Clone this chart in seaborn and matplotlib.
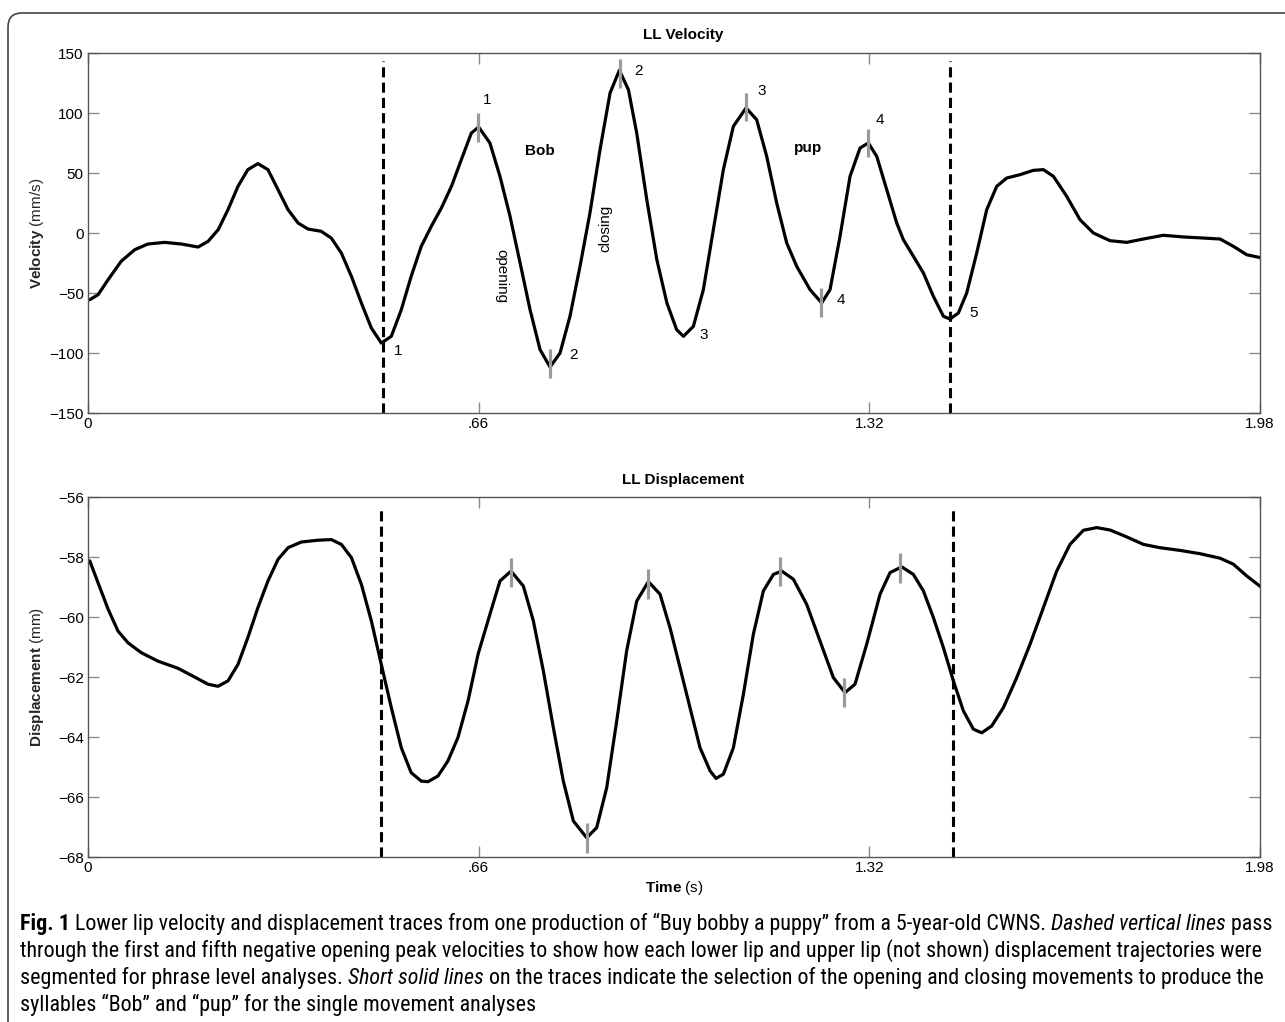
import matplotlib
matplotlib.use('Agg')
import matplotlib.pyplot as plt
from matplotlib import font_manager
from matplotlib.patches import FancyBboxPatch
import seaborn as sns
import pandas as pd

# ── data ─────────────────────────────────────────────────────
vel_t = [0.003, 0.017, 0.034, 0.056, 0.079, 0.101, 0.1295, 0.158, 0.186, 0.203, 0.22,
         0.2365, 0.2534, 0.27, 0.287, 0.304, 0.321, 0.338, 0.355, 0.3717, 0.394, 0.411,
         0.428, 0.445, 0.4618, 0.4787, 0.4955, 0.5124, 0.5293, 0.546, 0.563, 0.58, 0.597,
         0.614, 0.6307, 0.6476, 0.66, 0.679, 0.696, 0.713, 0.73, 0.7468, 0.7637, 0.7806,
         0.7975, 0.8143, 0.8312, 0.848, 0.865, 0.882, 0.8977, 0.913, 0.927, 0.944, 0.961,
         0.978, 0.9945, 1.006, 1.0227, 1.0396, 1.0565, 1.0734, 1.0903, 1.1117, 1.1297,
         1.1466, 1.1635, 1.1804, 1.1973, 1.2198, 1.2395, 1.2536, 1.2705, 1.2874, 1.3043,
         1.3183, 1.3325, 1.3494, 1.3663, 1.3775, 1.3944, 1.4113, 1.4282, 1.4451, 1.4563,
         1.4704, 1.4845, 1.5014, 1.5183, 1.5352, 1.5521, 1.5746, 1.5971, 1.614, 1.631,
         1.6534, 1.6759, 1.6985, 1.7266, 1.7548, 1.783, 1.8167, 1.8505, 1.8843, 1.9125,
         1.935, 1.9575, 1.983]
vel_v = [-55.6, -51.4, -38.9, -23.6, -13.9, -9.2, -7.8, -9.2, -11.7, -6.9, 2.8,
         19.4, 38.9, 52.8, 57.8, 52.8, 36.1, 19.4, 8.3, 3.3, 1.4, -4.2,
         -16.7, -36.1, -58.3, -79.2, -91.7, -86.1, -63.9, -36.1, -11.1, 5.6, 20.8,
         38.9, 61.1, 83.3, 88.3, 75, 47.2, 13.9, -25, -63.9, -97.2, -111.7,
         -100, -69.4, -27.8, 16.7, 69.4, 116.7, 135.6, 119.4, 83.3, 27.8, -22.2,
         -58.3, -80.6, -86.1, -77.8, -47.2, 2.8, 52.8, 88.9, 104.2, 94.4,
         63.9, 25, -8.3, -27.8, -47.2, -58.3, -47.2, -2.8, 47.2, 70.8,
         75, 63.9, 36.1, 8.3, -5.6, -19.4, -33.3, -52.8, -69.4, -71.7,
         -66.7, -50, -16.7, 19.4, 38.9, 45.8, 48.6, 52.2, 52.8, 47.2,
         30.6, 11.1, 0, -6.4, -7.8, -5, -1.9, -3.3, -4.2, -5,
         -11.1, -18.1, -20.8]

disp_t = [0.003, 0.017, 0.034, 0.0507, 0.0676, 0.09, 0.118, 0.152, 0.18, 0.2027, 0.2196,
          0.2365, 0.2534, 0.27, 0.287, 0.304, 0.321, 0.338, 0.3604, 0.3886, 0.411, 0.428,
          0.445, 0.4618, 0.4787, 0.4955, 0.5124, 0.5293, 0.546, 0.563, 0.5744, 0.5913,
          0.608, 0.625, 0.642, 0.659, 0.679, 0.696, 0.7147, 0.7355, 0.7524, 0.7693,
          0.7862, 0.803, 0.82, 0.8425, 0.8594, 0.8763, 0.8932, 0.91, 0.927, 0.9467,
          0.9664, 0.9833, 1.0002, 1.017, 1.034, 1.051, 1.061, 1.0734, 1.0903, 1.1072,
          1.124, 1.141, 1.158, 1.172, 1.1916, 1.2142, 1.2367, 1.2592, 1.2789, 1.2958,
          1.3155, 1.3381, 1.355, 1.3747, 1.3944, 1.4113, 1.4282, 1.4451, 1.462, 1.4789,
          1.4958, 1.5099, 1.5268, 1.5465, 1.569, 1.5915, 1.614, 1.6365, 1.659, 1.6816,
          1.7041, 1.7266, 1.7548, 1.783, 1.8111, 1.8449, 1.8787, 1.9125, 1.935, 1.9575,
          1.983]
disp_d = [-58.13, -58.86, -59.74, -60.47, -60.86, -61.19, -61.47, -61.71, -62.0, -62.24, -62.31,
          -62.13, -61.58, -60.69, -59.69, -58.8, -58.08, -57.69, -57.5, -57.44, -57.42, -57.58,
          -58.02, -58.91, -60.13, -61.58, -63.02, -64.36, -65.19, -65.47, -65.49, -65.3,
          -64.8, -64.02, -62.8, -61.24, -59.91, -58.8, -58.47, -58.97, -60.13, -61.8,
          -63.69, -65.47, -66.8, -67.36, -67.02, -65.69, -63.47, -61.13, -59.47, -58.82,
          -59.24, -60.36, -61.69, -63.02, -64.36, -65.13, -65.38, -65.24, -64.36, -62.58,
          -60.58, -59.13, -58.58, -58.47, -58.74, -59.58, -60.8, -62.02, -62.52, -62.24,
          -60.91, -59.24, -58.52, -58.33, -58.58, -59.13, -60.02, -61.02, -62.13, -63.13,
          -63.74, -63.86, -63.63, -63.02, -62.02, -60.91, -59.69, -58.47, -57.58, -57.11,
          -57.02, -57.1, -57.33, -57.58, -57.69, -57.78, -57.89, -58.04, -58.24, -58.63,
          -59.02]

# segmentation (dashed) times
vel_seg_t = [0.498, 1.456]
disp_seg_t = [0.4955, 1.461]

# short solid marks
vel_mark_t = [0.659, 0.781, 0.898, 1.112, 1.238, 1.318]
vel_mark_v = [88, -109, 133, 105, -58, 75]
disp_mark_t = [0.7147, 0.8425, 0.9467, 1.169, 1.278, 1.3719]
disp_mark_d = [-58.52, -67.37, -58.9, -58.48, -62.52, -58.36]

# peak numbering
peak_text = ['1', '1', '2', '2', '3', '3', '4', '4', '5']
peak_t = [0.524, 0.674, 0.82, 0.93, 1.04, 1.138, 1.272, 1.338, 1.496]
peak_v = [-98, 111, -102, 135, -85, 118, -56, 94, -67]

x_ticks = [0, 0.66, 1.32, 1.98]
x_tick_labels = ['0', '.66', '1.32', '1.98']
vel_ticks = [-150, -100, -50, 0, 50, 100, 150]
disp_ticks = [-68, -66, -64, -62, -60, -58, -56]

vel = pd.DataFrame({'t': vel_t, 'v': vel_v})
disp = pd.DataFrame({'t': disp_t, 'd': disp_d})

# ── style ────────────────────────────────────────────────────
sns.set_theme(style='white')
plt.rcParams['font.family'] = ['Liberation Sans', 'DejaVu Sans']
plt.rcParams.update({'mathtext.fontset': 'custom',
                     'mathtext.rm': 'Liberation Sans',
                     'mathtext.bf': 'Liberation Sans:bold',
                     'text.color': 'black',
                     'lines.solid_joinstyle': 'round',
                     'lines.solid_capstyle': 'round'})

names = {f.name for f in font_manager.fontManager.ttflist}
cap_font = 'Liberation Sans'
for cand in ['Liberation Sans Narrow', 'Roboto Condensed', 'Open Sans Condensed']:
    if cand in names:
        cap_font = cand
        break

W, H = 1285, 1022
fig = plt.figure(figsize=(W / 100, H / 100), dpi=100)
ax1 = fig.add_axes([88 / W, 1 - 413 / H, 1172 / W, 360 / H])
ax2 = fig.add_axes([88 / W, 1 - 857 / H, 1172 / W, 360 / H])


def style_axes(ax, yticks):
    for s in ax.spines.values():
        s.set_color('#555555')
        s.set_linewidth(1.0)
    ax.tick_params(direction='in', length=8, width=1, color='#8a8a8a',
                   top=True, right=True, bottom=True, left=True,
                   labelsize=11, labelcolor='black', pad=3)
    ax.set_xlim(0, 1.98)
    ax.set_xticks(x_ticks)
    ax.set_xticklabels(x_tick_labels)
    ax.set_yticks(yticks)
    ax.set_ylim(yticks[0], yticks[-1])
    ax.set_xlabel('')
    ax.set_ylabel('')


# ── LL Velocity ──────────────────────────────────────────────
sns.lineplot(data=vel, x='t', y='v', ax=ax1, color='black', linewidth=2.3,
             estimator=None, sort=False)
for t in vel_seg_t:
    ax1.axvline(t, ymin=0, ymax=0.977, color='black', lw=2.2,
                linestyle=(0, (3.3, 1.7)))
ax1.vlines(vel_mark_t, [v - 12 for v in vel_mark_v], [v + 12 for v in vel_mark_v],
           color='#9a9a9a', lw=2.3, zorder=5)
for txt, t, v in zip(peak_text, peak_t, peak_v):
    ax1.text(t, v, txt, fontsize=11, ha='center', va='center')
ax1.text(0.764, 68, 'Bob', fontsize=11, fontweight='bold', ha='center', va='center')
ax1.text(1.217, 71, 'pup', fontsize=11, fontweight='bold', ha='center', va='center')
ax1.text(0.699, -36, 'opening', fontsize=11, rotation=-90, ha='center', va='center')
ax1.text(0.8735, 4, 'closing', fontsize=11, rotation=90, ha='center', va='center')
style_axes(ax1, vel_ticks)
ax1.set_ylabel(r'$\mathbf{Velocity}$ (mm/s)', fontsize=11)
ax1.yaxis.set_label_coords(-0.036, 0.5)

# ── LL Displacement ──────────────────────────────────────────
sns.lineplot(data=disp, x='t', y='d', ax=ax2, color='black', linewidth=2.3,
             estimator=None, sort=False)
for t in disp_seg_t:
    ax2.axvline(t, ymin=0, ymax=0.97, color='black', lw=2.2,
                linestyle=(0, (3.3, 1.7)))
ax2.vlines(disp_mark_t, [d - 0.49 for d in disp_mark_d], [d + 0.49 for d in disp_mark_d],
           color='#9a9a9a', lw=2.3, zorder=5)
style_axes(ax2, disp_ticks)
ax2.set_ylabel(r'$\mathbf{Displacement}$ (mm)', fontsize=11)
ax2.yaxis.set_label_coords(-0.036, 0.5)

fig.text(683 / W, 1 - 35 / H, 'LL Velocity', fontsize=11, fontweight='bold',
         ha='center', va='center')
fig.text(683 / W, 1 - 480 / H, 'LL Displacement', fontsize=11, fontweight='bold',
         ha='center', va='center')
fig.text(674 / W, 1 - 888 / H, r'$\mathbf{Time}$ (s)', fontsize=11,
         ha='center', va='center')

# ── caption ──────────────────────────────────────────────────
caption = [
    [('Fig. 1', 'bold', 'normal'),
     (' Lower lip velocity and displacement traces from one production of \u201cBuy bobby a puppy\u201d '
      'from a 5-year-old CWNS. ', 'normal', 'normal'),
     ('Dashed vertical lines', 'normal', 'italic'),
     (' pass', 'normal', 'normal')],
    [('through the first and fifth negative opening peak velocities to show how each lower lip and '
      'upper lip (not shown) displacement trajectories were', 'normal', 'normal')],
    [('segmented for phrase level analyses. ', 'normal', 'normal'),
     ('Short solid lines', 'normal', 'italic'),
     (' on the traces indicate the selection of the opening and closing movements to produce the',
      'normal', 'normal')],
    [('syllables \u201cBob\u201d and \u201cpup\u201d for the single movement analyses', 'normal', 'normal')],
]
renderer = fig.canvas.get_renderer()


def line_width(pieces, size):
    total = 0
    for txt, wt, st in pieces:
        tmp = fig.text(0, 0, txt, fontsize=size, fontweight=wt, fontstyle=st, family=cap_font)
        total += tmp.get_window_extent(renderer).width
        tmp.remove()
    return total


base = 12
cap_size = base * 1257 / line_width(caption[0], base)
for i, pieces in enumerate(caption):
    x = 20
    y = 930 + 27 * i
    for txt, wt, st in pieces:
        t = fig.text(x / W, 1 - y / H, txt, fontsize=cap_size, fontweight=wt,
                     fontstyle=st, family=cap_font, ha='left', va='baseline')
        x += t.get_window_extent(renderer).width

# rounded frame around the figure
frame = FancyBboxPatch((0.08, -0.5), 13.5, 10.22 - 0.13 + 0.5,
                       boxstyle='round,pad=0,rounding_size=0.14',
                       transform=fig.dpi_scale_trans, fill=False,
                       edgecolor='#444444', linewidth=1.2)
fig.patches.append(frame)

plt.savefig('out.png', dpi=100)
